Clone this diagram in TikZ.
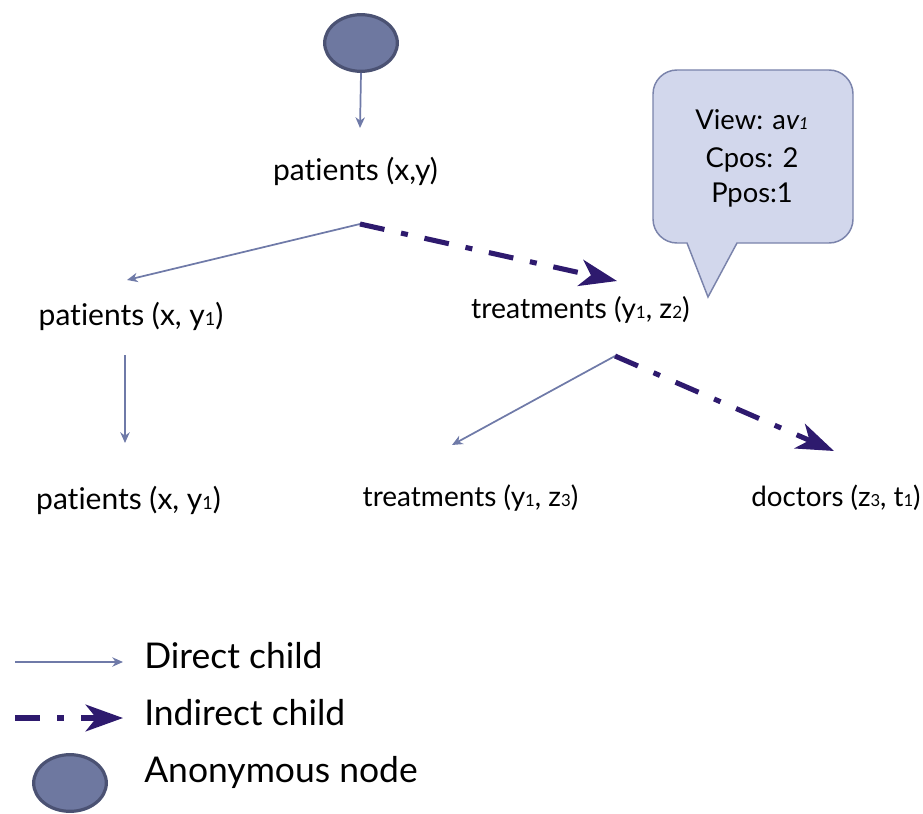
\documentclass[tikz,border=0pt]{standalone}
\usepackage{fontspec}
\setmainfont{Lato}[Ligatures=NoCommon]
\usetikzlibrary{arrows.meta,shapes.geometric}

\definecolor{thinline}{HTML}{6F7AA8}
\definecolor{indigo}{HTML}{2E1A6E}
\definecolor{anonfill}{HTML}{6E78A0}
\definecolor{anonline}{HTML}{4B5273}
\definecolor{bubbleline}{HTML}{7A83AB}
\definecolor{bubblelight}{HTML}{D2D7EC}
\definecolor{bubblemid}{HTML}{BCC3E2}

% text size helper and small index figures
\newcommand\fsz[1]{\fontsize{#1}{#1}\selectfont}
\newcommand\idx[1]{\scalebox{0.6}{#1}}

\tikzset{
  lbl/.style={inner sep=0pt, anchor=base},
  legendtxt/.style={inner sep=0pt, anchor=base west, font=\fsz{26.6pt}},
  anon/.style={ellipse, draw=anonline, fill=anonfill, line width=2.4pt,
    minimum width=54.5pt, minimum height=42.5pt, inner sep=0pt},
  direct/.style={draw=thinline, line width=1.3pt,
    -{Stealth[length=8pt,width=7pt,inset=2.5pt]}},
  indirect/.style={draw=indigo, line width=3.8pt,
    dash pattern=on 18.75pt off 12.75pt on 5.25pt off 12.75pt,
    -{Stealth[length=28pt,width=20pt,inset=8pt]}},
  callout/.style={draw=bubbleline, line width=1.1pt,
    left color=bubblelight, middle color=bubblemid, right color=bubblelight}
}

\begin{document}
\begin{tikzpicture}[x=0.75pt,y=-0.75pt]
\useasboundingbox (0,0) rectangle (923,813);

% ---- tree ----
\node[anon] (root) at (361,43) {};

\node[lbl, font=\fsz{22.5pt}] (p0) at (355.5,180) {patients (x,y)};
\node[lbl, font=\fsz{22.5pt}] (p1) at (131,325) {patients (x, y\idx{1})};
\node[lbl, font=\fsz{21.3pt}] (t1) at (580.5,318) {treatments (y\idx{1}, z\idx{2})};
\node[lbl, font=\fsz{22.5pt}] (p2) at (128.5,509) {patients (x, y\idx{1})};
\node[lbl, font=\fsz{21pt}] (t2) at (470.5,506) {treatments (y\idx{1}, z\idx{3})};
\node[lbl, font=\fsz{20.8pt}] (doc) at (836,506) {doctors (z\idx{3}, t\idx{1})};

\coordinate (p0in)  at (360,128);
\coordinate (p0out) at (360,224);
\coordinate (p1in)  at (127,280);
\coordinate (t1in)  at (617,281);
\coordinate (p1out) at (125,355);
\coordinate (p2in)  at (125,443);
\coordinate (t1out) at (615,356);
\coordinate (t2in)  at (452,445);
\coordinate (docin) at (834,451);

\draw[direct] (root.south) -- (p0in);
\draw[direct] (p0out) -- (p1in);
\draw[indirect] (p0out) -- (t1in);
\draw[direct] (p1out) -- (p2in);
\draw[direct] (t1out) -- (t2in);
\draw[indirect] (t1out) -- (docin);

% ---- speech bubble ----
\path[callout] (708,297) -- (687,243) [rounded corners=18pt] -- (653,243)
  -- (653,70) -- (853,70) -- (853,243) [sharp corners] -- (737,243) -- cycle;
\node[lbl, font=\fsz{20.5pt}] (view) at (752,130) {View: a\textit{v\idx{1}}};
\node[lbl, font=\fsz{20.5pt}] (cpos) at (752,167) {Cpos: 2};
\node[lbl, font=\fsz{20.5pt}] (ppos) at (752,202) {Ppos:1};

% ---- legend ----
\coordinate (la1) at (15,662);
\coordinate (lb1) at (123,662);
\coordinate (la2) at (15,718);
\coordinate (lb2) at (123,718);
\draw[direct] (la1) -- (lb1);
\draw[indirect] (la2) -- (lb2);
\node[anon] (lanon) at (70,783) {};
\node[legendtxt] (ldirect) at (144,668) {Direct child};
\node[legendtxt] (lindirect) at (144,725) {Indirect child};
\node[legendtxt] (lanontxt) at (144,782) {Anonymous node};
\end{tikzpicture}
\end{document}
